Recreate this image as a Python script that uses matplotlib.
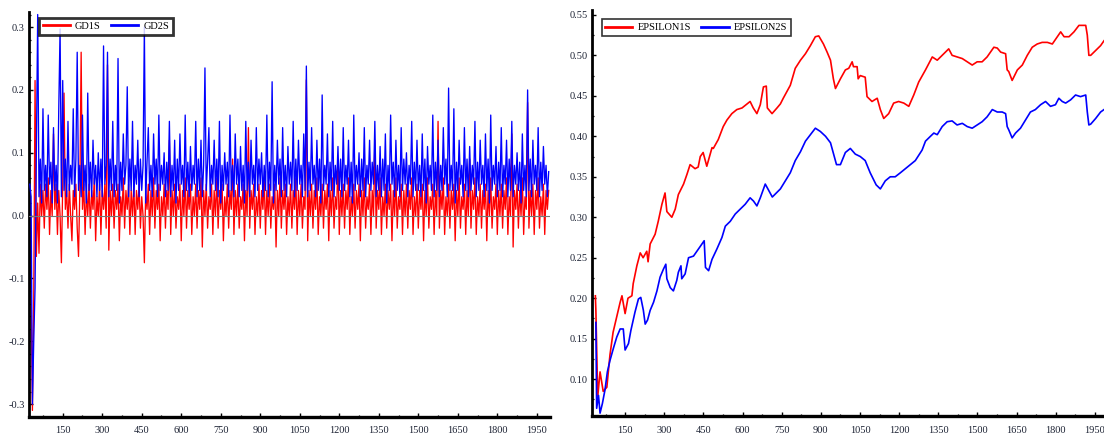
import numpy as np
import matplotlib
matplotlib.use("Agg")
import matplotlib.pyplot as plt
from matplotlib.ticker import MultipleLocator

# ---- left panel: GD1S / GD2S, observations 25..1995 every 5 ----
gd_obs = np.arange(25, 2000, 5)

gd1s = [
    0.04, -0.14, -0.31, -0.13, 0.215, -0.065, 0.02, -0.06, 0.05, 0.00, 0.04, -0.02, 0.05, 0.01, 0.06, -0.03, 0.04, 0.00, 0.13, 0.01,
    0.05, -0.03, 0.04, 0.00, -0.075, 0.05, 0.195, 0.01, 0.04, -0.02, 0.05, 0.00, -0.04, 0.04, 0.01, 0.05, -0.02, -0.065, 0.04, 0.26,
    0.01, 0.05, -0.03, 0.04, 0.00, 0.05, -0.02, 0.04, 0.01, 0.06, -0.04, 0.03, 0.00, 0.05, -0.03, 0.04, 0.01, 0.05, -0.02, 0.24,
    -0.055, 0.04, 0.00, 0.05, -0.02, 0.04, 0.01, 0.05, -0.04, 0.03, 0.00, 0.06, -0.02, 0.04, 0.01, 0.05, -0.03, 0.04, 0.00, 0.05,
    -0.03, 0.04, 0.01, 0.05, -0.02, 0.03, 0.00, -0.075, 0.04, 0.01, 0.05, -0.03, 0.04, 0.00, 0.06, -0.02, 0.04, 0.01, 0.05, -0.04,
    0.03, 0.00, 0.05, -0.02, 0.04, 0.01, 0.12, -0.03, 0.04, 0.00, 0.05, -0.02, 0.03, 0.01, 0.05, -0.04, 0.04, 0.00, 0.06, -0.02,
    0.04, 0.01, 0.05, -0.03, 0.03, 0.00, 0.05, -0.02, 0.04, 0.01, 0.06, -0.05, 0.04, 0.00, 0.05, -0.02, 0.03, 0.01, 0.05, -0.03,
    0.04, 0.00, 0.06, -0.02, 0.04, 0.01, 0.05, -0.04, 0.03, 0.00, 0.05, -0.02, 0.04, 0.01, 0.09, -0.03, 0.04, 0.00, 0.05, -0.02,
    0.03, 0.01, 0.05, -0.04, 0.04, 0.00, 0.14, -0.02, 0.04, 0.01, 0.05, -0.03, 0.03, 0.00, 0.05, -0.02, 0.04, 0.01, 0.06, -0.03,
    0.04, 0.00, 0.05, -0.02, 0.03, 0.01, 0.05, -0.05, 0.04, 0.00, 0.06, -0.02, 0.04, 0.01, 0.05, -0.03, 0.03, 0.00, 0.05, -0.02,
    0.04, 0.01, 0.06, -0.03, 0.04, 0.00, 0.05, -0.02, 0.03, 0.01, 0.216, -0.04, 0.04, 0.00, 0.05, -0.02, 0.04, 0.01, 0.06, -0.03,
    0.03, 0.00, 0.05, -0.02, 0.04, 0.01, 0.05, -0.04, 0.04, 0.00, 0.06, -0.02, 0.03, 0.01, 0.09, -0.03, 0.04, 0.00, 0.05, -0.02,
    0.04, 0.01, 0.06, -0.03, 0.03, 0.00, 0.05, -0.02, 0.04, 0.01, 0.05, -0.04, 0.04, 0.00, 0.06, -0.02, 0.03, 0.01, 0.05, -0.03,
    0.04, 0.00, 0.12, -0.02, 0.04, 0.01, 0.06, -0.03, 0.03, 0.00, 0.05, -0.02, 0.04, 0.01, 0.05, -0.04, 0.04, 0.00, 0.06, -0.02,
    0.03, 0.01, 0.05, -0.03, 0.04, 0.00, 0.05, -0.02, 0.04, 0.01, 0.06, -0.03, 0.03, 0.00, 0.05, -0.02, 0.04, 0.01, 0.05, -0.04,
    0.04, 0.00, 0.06, -0.02, 0.03, 0.01, 0.05, -0.03, 0.04, 0.00, 0.15, -0.02, 0.04, 0.01, 0.06, -0.03, 0.03, 0.00, 0.05, -0.02,
    0.04, 0.01, 0.05, -0.04, 0.04, 0.00, 0.06, -0.02, 0.03, 0.01, 0.05, -0.03, 0.04, 0.00, 0.09, -0.02, 0.04, 0.01, 0.06, -0.03,
    0.03, 0.00, 0.05, -0.02, 0.04, 0.01, 0.05, -0.04, 0.04, 0.00, 0.06, -0.02, 0.03, 0.01, 0.05, -0.03, 0.04, 0.00, 0.05, -0.02,
    0.04, 0.01, 0.06, -0.03, 0.03, 0.00, 0.13, -0.05, 0.04, 0.01, 0.05, -0.02, 0.04, 0.00, 0.06, -0.03, 0.03, 0.01, 0.18, -0.02,
    0.04, 0.00, 0.05, -0.03, 0.04, 0.01, 0.06, -0.02, 0.03, 0.00, 0.05, -0.03, 0.04, 0.01, 0.04,
]

gd2s = [
    0.05, 0.03, -0.30, -0.20, -0.115, 0.10, 0.32, 0.03, 0.09, 0.02, 0.17, 0.04, 0.08, 0.03, 0.16, 0.05, 0.085, 0.02, 0.14, 0.04,
    0.08, 0.02, 0.17, 0.297, 0.03, 0.215, 0.04, 0.09, 0.03, 0.15, 0.04, 0.08, 0.05, 0.17, 0.03, 0.09, 0.26, 0.04, 0.08, 0.03,
    0.16, 0.04, 0.08, 0.02, 0.195, 0.04, 0.085, 0.03, 0.12, 0.05, 0.08, 0.03, 0.10, 0.04, 0.09, 0.03, 0.27, 0.05, 0.08, 0.26,
    0.03, 0.09, 0.04, 0.15, 0.03, 0.08, 0.04, 0.25, 0.02, 0.085, 0.04, 0.13, 0.05, 0.08, 0.205, 0.03, 0.09, 0.04, 0.15, 0.03,
    0.08, 0.05, 0.12, 0.03, 0.09, 0.04, 0.08, 0.30, 0.02, 0.085, 0.14, 0.04, 0.08, 0.03, 0.13, 0.05, 0.09, 0.03, 0.16, 0.04,
    0.08, 0.05, 0.10, 0.03, 0.085, 0.04, 0.15, 0.03, 0.08, 0.04, 0.12, 0.02, 0.09, 0.04, 0.13, 0.05, 0.08, 0.03, 0.16, 0.04,
    0.085, 0.03, 0.11, 0.04, 0.08, 0.05, 0.15, 0.03, 0.09, 0.04, 0.12, 0.03, 0.08, 0.235, 0.04, 0.085, 0.14, 0.03, 0.08, 0.05,
    0.12, 0.04, 0.09, 0.03, 0.15, 0.02, 0.08, 0.04, 0.10, 0.05, 0.085, 0.03, 0.16, 0.04, 0.08, 0.03, 0.13, 0.05, 0.09, 0.03,
    0.11, 0.04, 0.08, 0.02, 0.15, 0.04, 0.085, 0.03, 0.12, 0.05, 0.08, 0.03, 0.14, 0.04, 0.09, 0.05, 0.10, 0.03, 0.08, 0.04,
    0.16, 0.03, 0.085, 0.04, 0.213, 0.02, 0.08, 0.04, 0.12, 0.05, 0.09, 0.03, 0.14, 0.04, 0.08, 0.03, 0.11, 0.05, 0.085, 0.04,
    0.15, 0.03, 0.09, 0.04, 0.12, 0.05, 0.08, 0.03, 0.13, 0.04, 0.238, 0.03, 0.085, 0.04, 0.14, 0.05, 0.08, 0.03, 0.12, 0.04,
    0.09, 0.02, 0.192, 0.04, 0.08, 0.05, 0.13, 0.03, 0.085, 0.04, 0.15, 0.03, 0.08, 0.05, 0.11, 0.04, 0.09, 0.03, 0.14, 0.04,
    0.08, 0.05, 0.12, 0.03, 0.085, 0.02, 0.16, 0.04, 0.08, 0.05, 0.10, 0.03, 0.09, 0.04, 0.14, 0.03, 0.08, 0.05, 0.12, 0.04,
    0.085, 0.05, 0.15, 0.03, 0.08, 0.04, 0.11, 0.03, 0.09, 0.04, 0.13, 0.02, 0.08, 0.04, 0.16, 0.05, 0.085, 0.03, 0.12, 0.04,
    0.08, 0.03, 0.14, 0.04, 0.09, 0.05, 0.10, 0.03, 0.08, 0.05, 0.15, 0.03, 0.085, 0.04, 0.12, 0.04, 0.08, 0.03, 0.13, 0.04,
    0.09, 0.02, 0.11, 0.05, 0.08, 0.04, 0.16, 0.03, 0.085, 0.04, 0.12, 0.03, 0.08, 0.04, 0.14, 0.05, 0.09, 0.03, 0.203, 0.04,
    0.08, 0.04, 0.17, 0.02, 0.085, 0.04, 0.12, 0.05, 0.08, 0.03, 0.14, 0.04, 0.09, 0.03, 0.11, 0.04, 0.08, 0.05, 0.15, 0.03,
    0.085, 0.04, 0.12, 0.05, 0.08, 0.03, 0.13, 0.04, 0.09, 0.02, 0.16, 0.04, 0.08, 0.05, 0.11, 0.03, 0.085, 0.04, 0.14, 0.03,
    0.08, 0.05, 0.12, 0.03, 0.09, 0.04, 0.15, 0.03, 0.08, 0.05, 0.10, 0.04, 0.085, 0.02, 0.13, 0.04, 0.08, 0.03, 0.20, 0.04,
    0.09, 0.03, 0.12, 0.05, 0.08, 0.04, 0.14, 0.03, 0.085, 0.04, 0.11, 0.05, 0.08, 0.03, 0.07,
]

# ---- right panel: EPSILON1S / EPSILON2S ----
eps1_obs = [36, 38, 45, 54, 66, 80, 92, 104, 118, 131, 138, 150, 161, 176, 181,
            195, 208, 219, 233, 238, 246, 265, 277, 291, 303, 310, 329, 342, 354,
            374, 387, 399, 418, 430, 438, 449, 463, 483, 488, 507, 526, 540, 559,
            578, 598, 629, 641, 655, 668, 680, 691, 695, 713, 732, 745, 756, 783,
            802, 822, 841, 860, 879, 892, 910, 924, 937, 948, 956, 975, 994, 1007,
            1020, 1025, 1039, 1043, 1051, 1070, 1077, 1096, 1116, 1128, 1141, 1160,
            1179, 1198, 1218, 1237, 1256, 1275, 1301, 1327, 1346, 1365, 1390, 1403,
            1422, 1442, 1461, 1480, 1499, 1518, 1537, 1550, 1563, 1576, 1589, 1608,
            1614, 1620, 1633, 1653, 1672, 1691, 1710, 1729, 1748, 1768, 1787, 1806,
            1819, 1832, 1851, 1870, 1889, 1915, 1921, 1927, 1934, 1953, 1972, 1985]
eps1 = [0.203, 0.185, 0.078, 0.109, 0.085, 0.090, 0.130, 0.158, 0.177, 0.195,
        0.203, 0.181, 0.200, 0.203, 0.218, 0.240, 0.256, 0.250, 0.258, 0.245,
        0.267, 0.279, 0.295, 0.316, 0.330, 0.307, 0.300, 0.310, 0.328, 0.341,
        0.353, 0.365, 0.360, 0.362, 0.375, 0.380, 0.363, 0.386, 0.385, 0.396,
        0.412, 0.420, 0.428, 0.433, 0.435, 0.443, 0.435, 0.428, 0.439, 0.461,
        0.462, 0.435, 0.428, 0.435, 0.440, 0.447, 0.463, 0.484, 0.494, 0.502,
        0.512, 0.523, 0.524, 0.514, 0.504, 0.494, 0.471, 0.459, 0.471, 0.482,
        0.484, 0.492, 0.486, 0.486, 0.471, 0.475, 0.473, 0.449, 0.443, 0.447,
        0.433, 0.422, 0.428, 0.441, 0.443, 0.441, 0.437, 0.451, 0.467, 0.482,
        0.498, 0.494, 0.500, 0.508, 0.500, 0.498, 0.496, 0.492, 0.488, 0.492,
        0.492, 0.498, 0.504, 0.510, 0.509, 0.504, 0.502, 0.482, 0.480, 0.469,
        0.482, 0.488, 0.500, 0.510, 0.514, 0.516, 0.516, 0.514, 0.523, 0.529,
        0.523, 0.523, 0.529, 0.537, 0.537, 0.525, 0.500, 0.500, 0.506, 0.512,
        0.518]

eps2_obs = [38, 41, 48, 54, 63, 73, 82, 92, 105, 118, 131, 143, 150, 163, 172,
            188, 201, 210, 220, 227, 236, 246, 259, 272, 284, 297, 306, 310, 323,
            335, 348, 354, 364, 367, 380, 393, 412, 425, 438, 453, 458, 470, 483,
            502, 521, 534, 553, 572, 591, 610, 629, 642, 655, 668, 687, 714, 745,
            783, 802, 822, 841, 860, 879, 898, 918, 937, 960, 975, 994, 1013, 1032,
            1051, 1070, 1089, 1112, 1128, 1147, 1166, 1185, 1205, 1224, 1243, 1262,
            1288, 1301, 1320, 1333, 1346, 1365, 1384, 1403, 1422, 1442, 1461, 1480,
            1499, 1518, 1537, 1557, 1576, 1595, 1608, 1614, 1620, 1633, 1646, 1665,
            1684, 1703, 1722, 1742, 1761, 1780, 1799, 1812, 1825, 1838, 1857, 1876,
            1895, 1915, 1921, 1927, 1934, 1953, 1972, 1985]
eps2 = [0.170, 0.064, 0.080, 0.058, 0.070, 0.087, 0.109, 0.123, 0.138, 0.152,
        0.162, 0.162, 0.136, 0.144, 0.160, 0.183, 0.199, 0.201, 0.185, 0.168,
        0.173, 0.185, 0.195, 0.209, 0.226, 0.236, 0.242, 0.224, 0.213, 0.209,
        0.222, 0.232, 0.240, 0.224, 0.230, 0.250, 0.252, 0.258, 0.264, 0.271,
        0.238, 0.234, 0.248, 0.261, 0.275, 0.289, 0.295, 0.304, 0.310, 0.316,
        0.324, 0.320, 0.314, 0.324, 0.341, 0.325, 0.335, 0.355, 0.370, 0.381,
        0.394, 0.402, 0.410, 0.406, 0.400, 0.392, 0.365, 0.365, 0.380, 0.385,
        0.378, 0.375, 0.370, 0.355, 0.340, 0.335, 0.345, 0.350, 0.350, 0.355,
        0.360, 0.365, 0.370, 0.383, 0.394, 0.400, 0.404, 0.402, 0.412, 0.418,
        0.419, 0.414, 0.416, 0.412, 0.410, 0.414, 0.418, 0.424, 0.433, 0.430,
        0.430, 0.428, 0.412, 0.408, 0.398, 0.404, 0.410, 0.420, 0.430, 0.433,
        0.439, 0.443, 0.437, 0.439, 0.447, 0.443, 0.441, 0.445, 0.451, 0.449,
        0.451, 0.430, 0.414, 0.415, 0.422, 0.430, 0.433]

x_ticks = [150, 300, 450, 600, 750, 900, 1050, 1200, 1350, 1500, 1650, 1800, 1950]
left_yticks = [-0.3, -0.2, -0.1, 0.0, 0.1, 0.2, 0.3]
right_yticks = [0.10, 0.15, 0.20, 0.25, 0.30, 0.35, 0.40, 0.45, 0.50, 0.55]

TICK_FONT = ["Liberation Serif", "DejaVu Serif"]
LEG_FONT = ["Liberation Sans Narrow", "Liberation Serif", "DejaVu Sans"]
TXT = "#1c2233"

fig = plt.figure(figsize=(11.04, 4.40), dpi=100)
fig.patch.set_facecolor("white")

W, H = 1104.0, 440.0
ax1 = fig.add_axes([29 / W, (H - 416.7) / H, (550 - 29) / W, (416.7 - 12) / H])
ax2 = fig.add_axes([591.7 / W, (H - 416.0) / H, (1104 - 591.7) / W, (416.0 - 10) / H])


def style(ax, yticks, ymaj_fmt, yminor):
    for s in ("top", "right"):
        ax.spines[s].set_visible(False)
    ax.spines["left"].set_linewidth(2.0)
    ax.spines["bottom"].set_linewidth(2.4)
    ax.set_xticks(x_ticks)
    ax.set_xticklabels([str(v) for v in x_ticks])
    ax.xaxis.set_minor_locator(MultipleLocator(75))
    ax.set_yticks(yticks)
    ax.set_yticklabels([ymaj_fmt.format(v) for v in yticks])
    ax.yaxis.set_minor_locator(MultipleLocator(yminor))
    ax.tick_params(which="major", direction="in", length=3.0, width=1.0,
                   colors="black", labelcolor=TXT, labelsize=7.5)
    ax.tick_params(which="minor", direction="in", length=1.6, width=0.9,
                   colors="black")
    ax.tick_params(axis="x", which="major", pad=7)
    ax.tick_params(axis="y", which="major", pad=3)
    for lab in ax.get_xticklabels() + ax.get_yticklabels():
        lab.set_family(TICK_FONT)


# left panel
ax1.plot(gd_obs, gd1s, color="#ff0000", lw=0.95, label="GD1S", zorder=2)
ax1.plot(gd_obs, gd2s, color="#0000ff", lw=0.95, label="GD2S", zorder=3)
ax1.axhline(0.0, color="#777777", lw=0.8, zorder=4)
ax1.set_xlim(22, 2000)
ax1.set_ylim(-0.32, 0.324)
style(ax1, left_yticks, "{:.1f}", 0.02)
leg1 = ax1.legend(loc="upper left", bbox_to_anchor=(0.019, 0.985), ncol=2,
                  frameon=True, fancybox=False, edgecolor="black",
                  prop={"family": LEG_FONT, "size": 7.5}, handlelength=2.6,
                  handletextpad=0.5, columnspacing=1.0, borderpad=0.35,
                  borderaxespad=0.0)
leg1.get_frame().set_linewidth(2.0)
leg1.set_zorder(10)
for h in leg1.get_lines():
    h.set_linewidth(2.0)

# right panel
ax2.plot(eps1_obs, eps1, color="#ff0000", lw=1.2, label="EPSILON1S", zorder=3)
ax2.plot(eps2_obs, eps2, color="#0000ff", lw=1.2, label="EPSILON2S", zorder=3)
ax2.set_xlim(22, 1985)
ax2.set_ylim(0.0545, 0.556)
style(ax2, right_yticks, "{:.2f}", 0.025)
leg2 = ax2.legend(loc="upper left", bbox_to_anchor=(0.0195, 0.977), ncol=2,
                  frameon=True, fancybox=False, edgecolor="black",
                  prop={"family": LEG_FONT, "size": 7.5}, handlelength=2.6,
                  handletextpad=0.5, columnspacing=1.0, borderpad=0.35,
                  borderaxespad=0.0)
leg2.get_frame().set_linewidth(1.2)
for h in leg2.get_lines():
    h.set_linewidth(2.0)

fig.savefig("out.png", dpi=100, facecolor="white")
